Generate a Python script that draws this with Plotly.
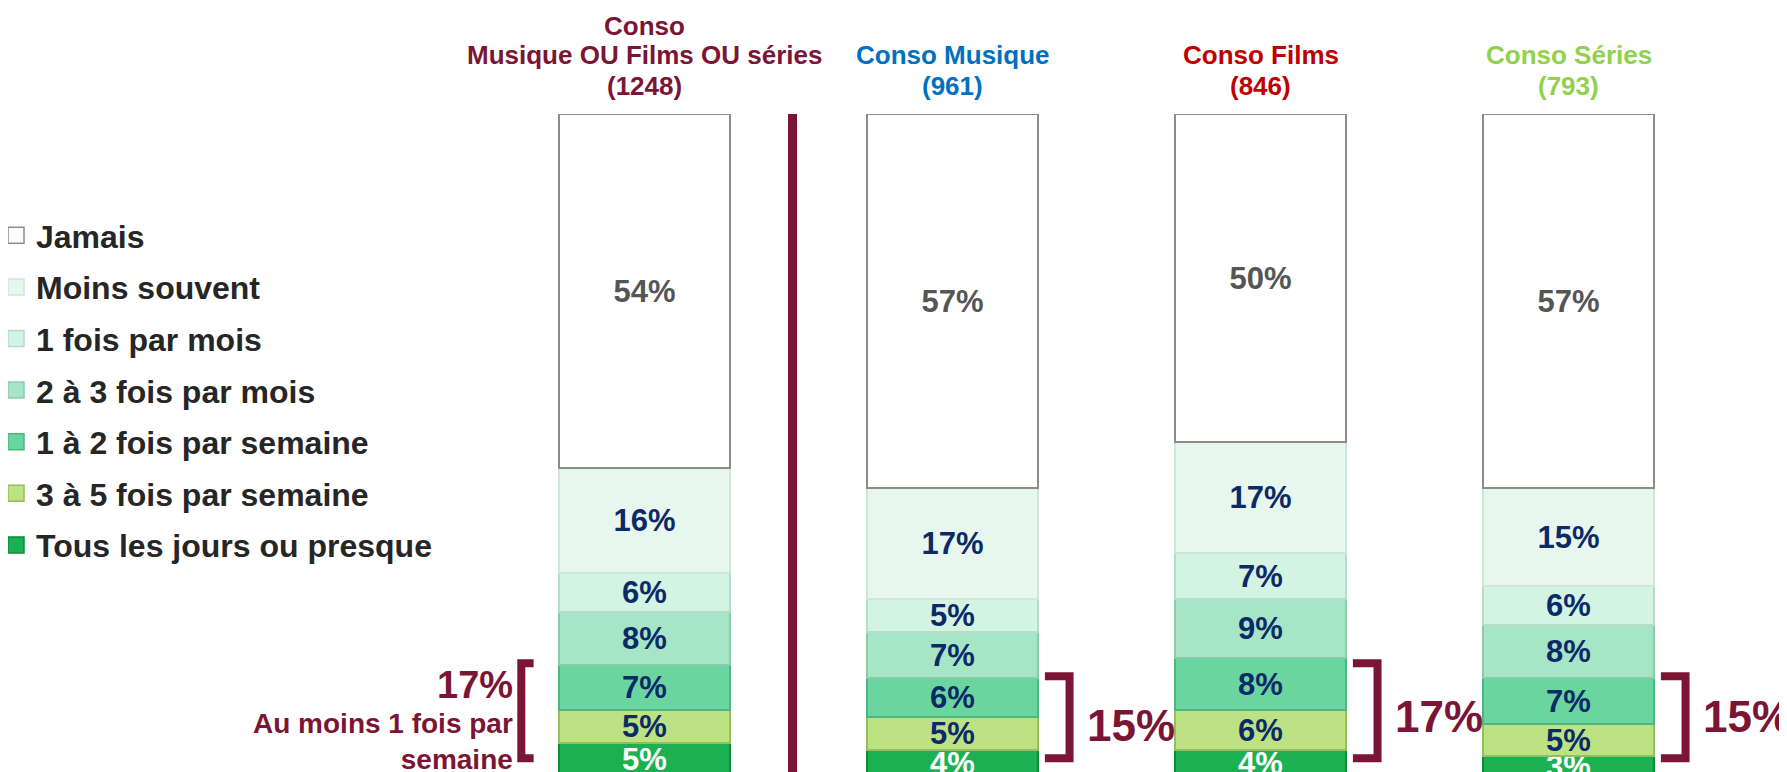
import plotly.graph_objects as go

# ---- data -------------------------------------------------------------
groups = ["Conso Musique OU Films OU séries", "Conso Musique", "Conso Films", "Conso Séries"]
header_lines = [
    ["Conso", "Musique OU Films OU séries", "(1248)"],
    ["Conso Musique", "(961)"],
    ["Conso Films", "(846)"],
    ["Conso Séries", "(793)"],
]
header_colors = ["#7B1535", "#0070C0", "#C00000", "#92D050"]

# stacking order: bottom -> top
categories = [
    "Tous les jours ou presque",
    "3 à 5 fois par semaine",
    "1 à 2 fois par semaine",
    "2 à 3 fois par mois",
    "1 fois par mois",
    "Moins souvent",
    "Jamais",
]
values = {
    "Tous les jours ou presque": [5, 4, 4, 3],
    "3 à 5 fois par semaine": [5, 5, 6, 5],
    "1 à 2 fois par semaine": [7, 6, 8, 7],
    "2 à 3 fois par mois": [8, 7, 9, 8],
    "1 fois par mois": [6, 5, 7, 6],
    "Moins souvent": [16, 17, 17, 15],
    "Jamais": [54, 57, 50, 57],
}
weekly_totals = [17, 15, 17, 15]

fills = {
    "Tous les jours ou presque": "#1BB152",
    "3 à 5 fois par semaine": "#BDE283",
    "1 à 2 fois par semaine": "#6BD5A0",
    "2 à 3 fois par mois": "#A6E6C6",
    "1 fois par mois": "#D3F3E3",
    "Moins souvent": "#E7F7EE",
    "Jamais": "#FFFFFF",
}
edges = {
    "Tous les jours ou presque": "#0E8A3A",
    "3 à 5 fois par semaine": "#95BE5C",
    "1 à 2 fois par semaine": "#4DB784",
    "2 à 3 fois par mois": "#8ACBAA",
    "1 fois par mois": "#B7DCC9",
    "Moins souvent": "#CFE6D9",
    "Jamais": "#8C8C8C",
}
label_colors = {
    "Tous les jours ou presque": "#FFFFFF",
    "Jamais": "#555555",
}
NAVY = "#0D2A68"
MAROON = "#7B1535"
FONT = "Liberation Sans, Arial, sans-serif"

# the page body adds an 8px margin, so the figure is drawn 8px in/down
W, H, OFF = 1787, 772, 8
TOP = 114 - OFF           # screen row of the bar tops, in figure pixels
BOTTOM = OFF              # plot area ends at the screen's bottom edge
CX0, PXU = 644.5 - OFF, 308.0   # centre of first bar and pixels per category
Y0 = 0.6                  # bars run a little past the bottom edge


def py(y):
    # screen row -> paper y
    return (H - y) / (H - TOP - BOTTOM)


x = list(range(len(groups)))

fig = go.Figure()
for k, cat in enumerate(categories):
    fig.add_trace(go.Bar(
        name=cat,
        x=x,
        y=values[cat],
        width=0.555,
        marker=dict(color=fills[cat], line=dict(color=edges[cat], width=2)),
        texttemplate="%{y}%",
        textposition="inside",
        insidetextanchor="middle",
        constraintext="none",
        textangle=0,
        textfont=dict(family=FONT, size=31, weight="bold",
                      color=label_colors.get(cat, NAVY)),
        showlegend=False,
        hoverinfo="skip",
    ))
    # legend entry with a larger square swatch
    fig.add_trace(go.Scatter(
        name=cat, x=[None], y=[None], mode="markers",
        marker=dict(symbol="square", size=18, color=fills[cat],
                    line=dict(color=edges[cat], width=1.5)),
        legendgroup=cat,
        legendrank=len(categories) - k,
        hoverinfo="skip",
    ))

# brackets around the weekly segments
for i, tot in enumerate(weekly_totals):
    if i == 0:
        bx = [i - 0.36, i - 0.40, i - 0.40, i - 0.36]
    else:
        bx = [i + 0.30, i + 0.38, i + 0.38, i + 0.30]
    fig.add_trace(go.Scatter(
        x=bx, y=[tot + 0.2, tot + 0.2, 2.7, 2.7],
        mode="lines", line=dict(color=MAROON, width=8),
        showlegend=False, hoverinfo="skip", cliponaxis=False,
    ))

annotations = []
# headers
line_rows = {3: [26, 55, 86], 2: [55, 86]}
for i, lines in enumerate(header_lines):
    for txt, row in zip(lines, line_rows[len(lines)]):
        annotations.append(dict(
            x=i, xref="x", y=py(row), yref="paper", text=txt, showarrow=False,
            xanchor="center", yanchor="middle",
            font=dict(family=FONT, size=26, weight="bold", color=header_colors[i]),
        ))

# weekly totals
for i, tot in enumerate(weekly_totals):
    if i == 0:
        annotations.append(dict(
            x=i - 0.42, xref="x", y=py(685), yref="paper", text=f"{tot}%",
            showarrow=False, xanchor="right", yanchor="middle",
            font=dict(family=FONT, size=38, weight="bold", color=MAROON),
        ))
        annotations.append(dict(
            x=i - 0.42, xref="x", y=py(741), yref="paper",
            text="Au moins 1 fois par<br>semaine", align="right",
            showarrow=False, xanchor="right", yanchor="middle",
            font=dict(family=FONT, size=28, weight="bold", color=MAROON),
        ))
    else:
        row = 725 if i == 1 else 716
        annotations.append(dict(
            x=i + 0.43, xref="x", y=py(row), yref="paper", text=f"{tot}%",
            showarrow=False, xanchor="left", yanchor="middle",
            font=dict(family=FONT, size=44, weight="bold", color=MAROON),
        ))

sep_x = (792.5 - OFF - CX0) / PXU

fig.update_layout(
    width=W, height=H,
    margin=dict(l=0, r=0, t=TOP, b=BOTTOM, pad=0, autoexpand=False),
    barmode="stack",
    bargap=0,
    plot_bgcolor="white",
    paper_bgcolor="white",
    font=dict(family=FONT, color="#262626"),
    xaxis=dict(range=[-CX0 / PXU, (W - CX0) / PXU], visible=False, fixedrange=True),
    yaxis=dict(range=[Y0, 101], visible=False, fixedrange=True),
    showlegend=True,
    legend=dict(
        x=-12 / W, xanchor="left", y=py(208), yanchor="top",
        traceorder="grouped", tracegroupgap=7, itemsizing="trace",
        font=dict(family=FONT, size=32, weight="bold", color="#262626"),
        bgcolor="rgba(0,0,0,0)", itemclick=False, itemdoubleclick=False,
    ),
    shapes=[dict(
        type="line", xref="x", yref="paper",
        x0=sep_x, x1=sep_x, y0=0, y1=1,
        line=dict(color=MAROON, width=9),
    )],
    annotations=annotations,
)

fig.write_html("out.html")
